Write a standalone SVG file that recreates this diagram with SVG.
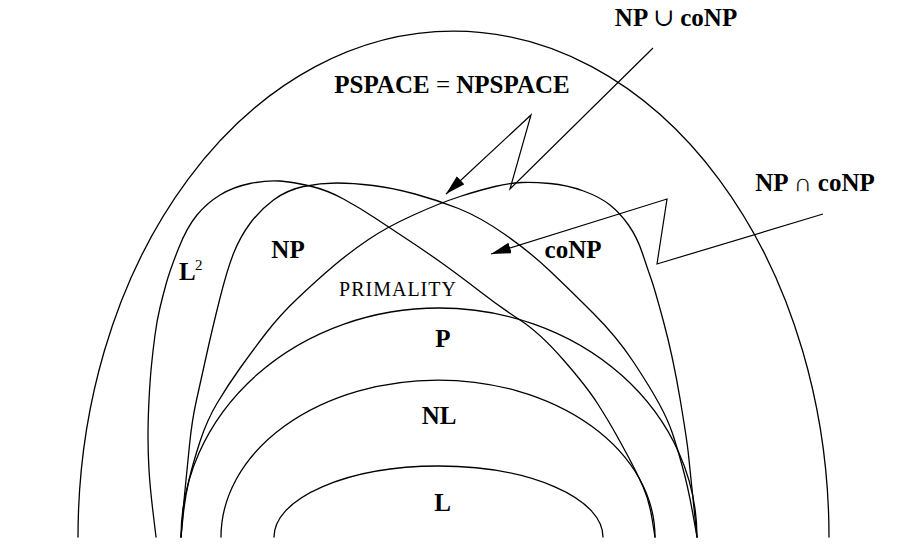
<svg xmlns="http://www.w3.org/2000/svg" width="900" height="549" viewBox="0 0 900 549">
<style>
.c{fill:none;stroke:#000;stroke-width:1.3;stroke-linejoin:round;stroke-linecap:round}
.a{fill:none;stroke:#000;stroke-width:1.2;stroke-linejoin:miter}
.t{font-family:"Liberation Serif","DejaVu Serif",serif;font-weight:bold;font-size:25px;fill:#000}
.op{font-weight:normal}
.s{font-family:"Liberation Serif","DejaVu Serif",serif;font-size:20px;letter-spacing:1px;fill:#000}
</style>
<defs>
<marker id="ah" markerUnits="userSpaceOnUse" markerWidth="22" markerHeight="12" refX="20" refY="5.5" orient="auto">
<path d="M0,0 L20,5.5 L0,11 z" fill="#000"/>
</marker>
</defs>
<g id="pspace">
<path class="c" d="M78,537 A375.5,506 0 0 1 829,537"/>
<text class="t" x="452" y="93" text-anchor="middle">PSPACE <tspan class="op">=</tspan> NPSPACE</text>
</g>
<g id="l2">
<path class="c" d="M156,537 L153,512 Q150,487 149,470 Q148,453 148,436.5 Q148,420 149,400 Q150,380 151.5,365 Q153,350 155,335 Q157,320 160,307.5 Q163,295 166.5,282.5 Q170,270 178.5,248.5 Q187,227 197,215 Q207,203 220,195 Q233,187 250,183.5 Q267,180 280,181 Q293,182 310,186 Q327,190 343.5,199 Q360,208 375,218 Q390,228 407.5,239.5 Q425,251 442.5,263.5 Q460,276 480,291.5 Q500,307 520,320 Q540,333 563.5,360 Q587,387 597.5,403.5 Q608,420 615,432.5 Q622,445 629.5,459 Q637,473 643,486.5 Q649,500 652,518.5 L655,537"/>
<text class="t" x="179" y="280">L</text>
<text class="s" x="195" y="270" style="font-size:15px;letter-spacing:0">2</text>
</g>
<g id="np">
<path class="c" d="M181,537 L182.5,518.5 Q184,500 185.5,485 Q187,470 189.5,445 Q192,420 196.5,400 Q201,380 206.5,355 Q212,330 219.5,300 Q227,270 233.5,253.5 Q240,237 250,223.5 Q260,210 273.5,200 Q287,190 303.5,186.5 Q320,183 336.5,183 Q353,183 373,185.5 Q393,188 415,194 Q437,200 458.5,208.5 Q480,217 505,234.5 Q530,252 550,271 Q570,290 593.5,313.5 Q617,337 633.5,362 Q650,387 659,403.5 Q668,420 672.5,433.5 Q677,447 682.5,467 Q688,487 692.5,512 L697,537"/>
<text class="t" x="288" y="258" text-anchor="middle">NP</text>
</g>
<g id="conp">
<path class="c" d="M181,537 L183,517 Q185,497 189,480 Q193,463 200,441.5 Q207,420 217.5,402.5 Q228,385 240.5,367.5 Q253,350 266.5,332.5 Q280,315 298.5,297.5 Q317,280 333.5,266 Q350,252 368.5,239.5 Q387,227 413.5,215 Q440,203 460,196.5 Q480,190 495,186.5 Q510,183 521.5,182.5 Q533,182 550,183.5 Q567,185 583.5,191 Q600,197 610,205 Q620,213 628.5,225 Q637,237 642.5,253.5 Q648,270 651.5,280 Q655,290 664,323.5 Q673,357 680,398.5 Q687,440 688.5,455 Q690,470 693.5,503.5 L697,537"/>
<text class="t" x="573" y="258" text-anchor="middle">coNP</text>
</g>
<g id="primality">
<text class="s" x="398" y="296" text-anchor="middle">PRIMALITY</text>
</g>
<g id="p">
<path class="c" d="M181,537 A258,229 0 0 1 697,537"/>
<text class="t" x="443" y="347" text-anchor="middle">P</text>
</g>
<g id="nl">
<path class="c" d="M221,537 A217,157 0 0 1 655,537"/>
<text class="t" x="439" y="424" text-anchor="middle">NL</text>
</g>
<g id="l">
<path class="c" d="M274,537 A164.5,71 0 0 1 603,537"/>
<text class="t" x="442.5" y="511" text-anchor="middle">L</text>
</g>
<g id="union-label">
<text class="t" x="676" y="26" text-anchor="middle">NP <tspan class="op">∪</tspan> coNP</text>
</g>
<g id="intersection-label">
<text class="t" x="815" y="191" text-anchor="middle">NP <tspan class="op">∩</tspan> coNP</text>
</g>
<g id="connectors">
<path class="a" d="M653,48 L510,189 L531,115 L446,194" marker-end="url(#ah)"/>
<path class="a" d="M823,214 L657,264 L667,199 L491,254" marker-end="url(#ah)"/>
</g>
</svg>
